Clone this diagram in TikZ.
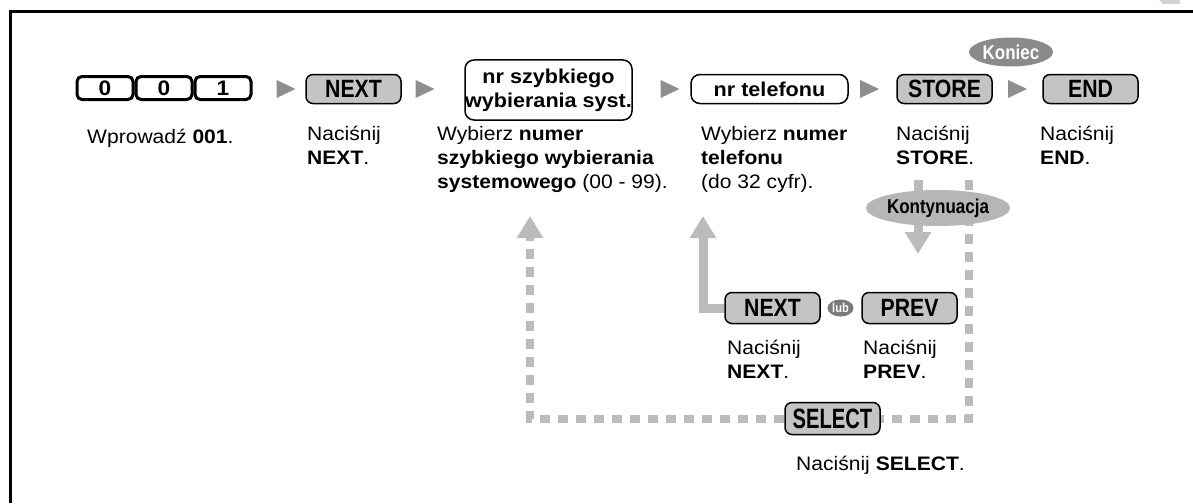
\documentclass[tikz,border=0pt]{standalone}
\usepackage{fontspec}
\setmainfont{Liberation Sans}[FakeStretch=1.08]
\newfontfamily\condfont{Liberation Sans}[FakeStretch=0.85]
\newfontfamily\narrowfont{Liberation Sans}[FakeStretch=0.72]
\usetikzlibrary{arrows.meta,shapes.geometric}

\definecolor{btngray}{HTML}{C4C4C4}
\definecolor{trigray}{HTML}{8E8E8E}
\definecolor{flowgray}{HTML}{BBBBBB}
\definecolor{tagdark}{HTML}{8A8A8A}
\definecolor{tagmid}{HTML}{B6B6B6}
\definecolor{lubgray}{HTML}{7A7A7A}

% small step triangle, centred at (#1,#2)
\newcommand{\steptri}[2]{\fill[trigray] (#1,#2) ++(-9.5,-9) -- ++(19,9) -- ++(-19,9) -- cycle;}

\begin{document}
\begin{tikzpicture}[x=1pt,y=-1pt,
  btn/.style={draw,line width=1.5pt,fill=btngray,rounded corners=7pt,minimum width=95pt,minimum height=29pt,inner sep=0pt,font=\condfont\bfseries\fontsize{25}{26}\selectfont},
  inbox/.style={draw,line width=1.5pt,fill=white,rounded corners=9pt,inner sep=0pt,align=center,font=\bfseries\fontsize{20}{24}\selectfont},
  keybtn/.style={draw,line width=3pt,fill=white,rounded corners=5pt,minimum width=56pt,minimum height=23pt,inner sep=0pt,font=\bfseries\fontsize{21}{24}\selectfont},
  txt/.style={anchor=north west,inner sep=0pt,align=left,font=\fontsize{19.5}{24}\selectfont,execute at begin node=\strut},
  flow/.style={draw=flowgray,line width=9pt},
  dashflow/.style={draw=flowgray,line width=8pt,dash pattern=on 10pt off 8pt},
  tip/.style={-{Triangle[width=25pt,length=22pt]}}
]
\useasboundingbox (0,0) rectangle (1193,503);
\fill[white] (0,0) rectangle (1193,503);
% frame
\draw[line width=3pt] (10.5,503) -- (10.5,11.5) -- (1193,11.5);
\fill[gray!35] (1159,0) -- (1180,0) -- (1180,4) -- (1163,4) -- cycle;

% top row
\node[keybtn] (key0a) at (105,88) {0};
\node[keybtn] (key0b) at (164,88) {0};
\node[keybtn] (key1) at (223,88) {1};
\steptri{286}{89}
\node[btn] (next) at (353.5,89) {NEXT};
\steptri{425}{89}
\node[inbox,minimum width=167pt,minimum height=60pt] (speed) at (548.5,90) {nr szybkiego\\wybierania syst.};
\steptri{670}{89}
\node[inbox,minimum width=157pt,minimum height=29pt] (tel) at (769.5,89) {nr telefonu};
\steptri{869.5}{89}
\node[btn] (store) at (944.5,89) {STORE};
\steptri{1017.5}{89}
\node[btn] (end) at (1090.5,89) {END};
\node[ellipse,fill=tagdark,text=white,minimum width=84pt,minimum height=29pt,inner sep=0pt,font=\condfont\bfseries\fontsize{20}{22}\selectfont] (koniec) at (1011,52) {Koniec};

% descriptions
\node[txt] (t001) at (87,126.2) {Wprowadź \textbf{001}.};
\node[txt] (tnext) at (307,126.2) {Naciśnij\\\textbf{NEXT}.};
\node[txt] (tspeed) at (437,126.2) {Wybierz \textbf{numer}\\\textbf{szybkiego wybierania}\\\textbf{systemowego} (00 - 99).};
\node[txt] (ttel) at (701,126.2) {Wybierz \textbf{numer}\\\textbf{telefonu}\\(do 32 cyfr).};
\node[txt] (tstore) at (896,126.2) {Naciśnij\\\textbf{STORE}.};
\node[txt] (tend) at (1040,126.2) {Naciśnij\\\textbf{END}.};

% lower part
\node[btn,minimum height=31pt] (next2) at (772.5,308) {NEXT};
\node[btn,minimum height=31pt] (prev) at (909.5,308) {PREV};
\node[ellipse,fill=lubgray,text=white,minimum width=26pt,minimum height=17pt,inner sep=0pt,font=\condfont\bfseries\fontsize{13}{14}\selectfont] (lub) at (840.5,308) {lub};
\node[txt] (tnext2) at (727,340.2) {Naciśnij\\\textbf{NEXT}.};
\node[txt] (tprev) at (863,340.2) {Naciśnij\\\textbf{PREV}.};
\node[btn,minimum height=32pt,font=\narrowfont\bfseries\fontsize{28}{30}\selectfont] (select) at (832.5,418.5) {SELECT};
\node[txt] (tselect) at (796,453.2) {Naciśnij \textbf{SELECT}.};

% loops
\coordinate (storeDn) at (918,180);
\coordinate (contTip) at (918,254);
\coordinate (telUp) at (703,216);
\coordinate (loopTop) at (969,180);
\coordinate (speedUp) at (530,216);
\draw[flow,tip] (storeDn) -- (contTip);
\draw[flow,tip] (next2.west) -| (telUp);
\draw[dashflow] (loopTop) |- (select.east);
\draw[dashflow,tip] (select.west) -| (speedUp);
\node[ellipse,fill=tagmid,minimum width=140pt,minimum height=36pt,inner sep=0pt,font=\condfont\bfseries\fontsize{20}{22}\selectfont] (cont) at (938,208) {Kontynuacja};
\end{tikzpicture}
\end{document}
